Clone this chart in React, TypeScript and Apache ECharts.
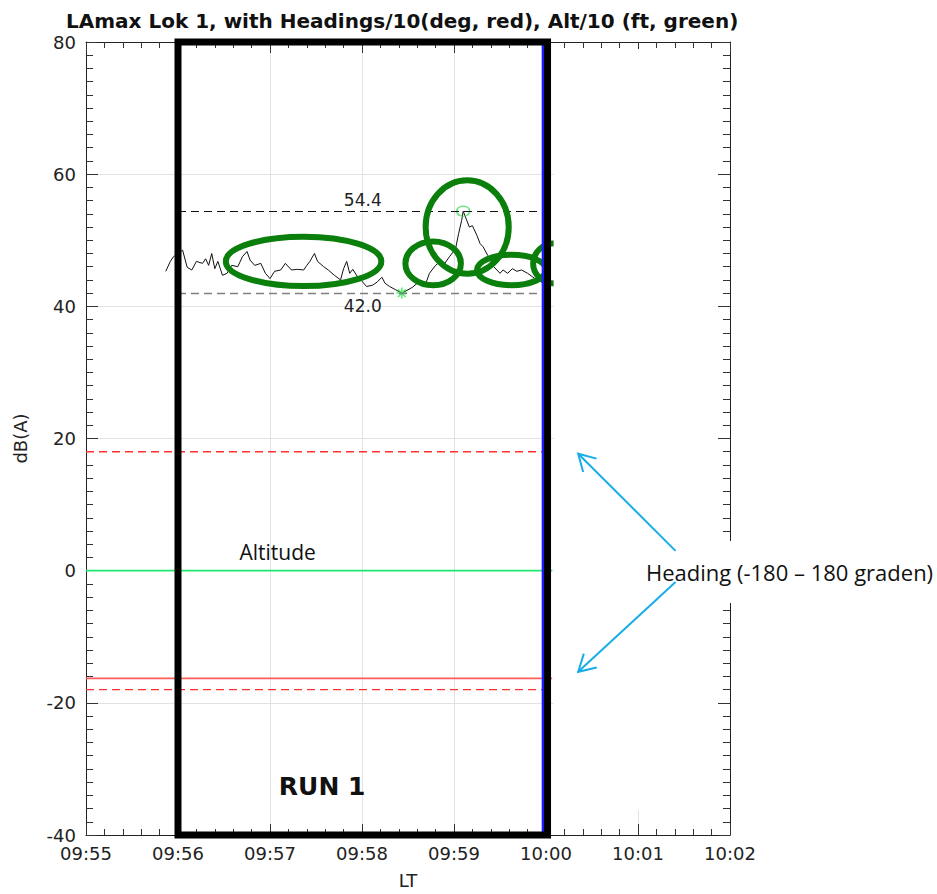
import React, { useEffect, useRef } from "react";
import * as echarts from "echarts";

// Time axis: seconds after 09:55:00, one major tick per minute
const timeTickLabels = ["09:55", "09:56", "09:57", "09:58", "09:59", "10:00", "10:01", "10:02"];

// LAmax trace at Lok 1 (seconds after 09:55:00)
const traceSeconds = [
  52, 55, 57, 63, 66, 69, 72, 76, 78, 80, 82, 84, 86, 89, 92, 95, 99, 102, 105, 107,
  110, 114, 117, 120, 123, 127, 130, 134, 138, 142, 144, 146, 149, 151, 155, 158, 162, 166, 168, 170,
  172, 174, 177, 180, 183, 187, 190, 193, 195, 198, 202, 206, 210, 213, 216, 219, 222, 224, 228, 231,
  234, 237, 241, 243, 245, 246, 248, 250, 252, 255, 257, 259, 262, 264, 265, 268, 270, 272, 275, 278,
  281, 284, 288, 291, 294, 297, 301, 303,
];
// LAmax in dB(A)
const traceLevels = [
  45.3, 46.8, 47.5, 48.5, 45.9, 45.5, 46.8, 46.5, 47.2, 46.2, 48.0, 45.7, 46.8, 44.7, 45.0, 46.2, 46.0, 47.5, 48.3, 47.0,
  46.2, 46.5, 45.0, 44.2, 45.3, 45.5, 46.5, 45.5, 45.6, 45.5, 46.2, 46.8, 48.0, 46.8, 46.0, 45.5, 44.7, 44.0, 45.7, 46.8,
  45.0, 45.6, 44.5, 43.8, 43.0, 43.2, 43.7, 44.4, 43.5, 43.0, 42.5, 42.0, 42.5, 42.9, 43.5, 43.2, 43.7, 45.0, 46.2, 46.8,
  46.5, 47.5, 48.7, 51.0, 53.0, 54.4, 53.2, 52.0, 52.2, 50.7, 49.5, 49.0, 47.7, 47.0, 46.2, 45.5, 45.0, 45.5, 45.0, 45.7,
  45.3, 45.5, 45.0, 44.5, 44.0, 44.2, 46.8, 45.7,
];

// Flight track overlays (values divided by 10)
const headingLimits = [18, -18]; // +/-180 deg
const headingLevel = -16.3;
const altitudeLevel = 0;
const trackEndSeconds = 304;

// Measurement run window and end marker (seconds)
const runWindow = [60, 301];
const runEndMarker = 298;

// Rings drawn around events: [t (s), level (dB), half-width (s), half-height (dB)]
const eventRings = [
  [141.9, 46.8, 50.7, 3.73],
  [226.4, 46.5, 18.1, 3.31],
  [248.6, 52.0, 27.1, 7.07],
  [277.5, 45.5, 22.5, 2.3],
  [305.9, 46.5, 14.3, 3.05],
];

const AXIS_FONT = "DejaVu Sans";
const NOTE_FONT = "Open Sans";

export default function App() {
  const ref = useRef<HTMLDivElement>(null);

  useEffect(() => {
    if (!ref.current) return;
    const chart = echarts.init(ref.current, null, { renderer: "svg" });

    const trace = traceSeconds.map((t, i) => [t, traceLevels[i]]);
    const peak = Math.max(...traceLevels);
    const low = Math.min(...traceLevels);
    const peakT = traceSeconds[traceLevels.indexOf(peak)];
    const lowT = traceSeconds[traceLevels.indexOf(low)];

    const flat = (v: number) => [
      [0, v],
      [trackEndSeconds, v],
    ];

    const tickStyle = { color: "#333", width: 1 };
    const xBase = {
      type: "value" as const,
      min: 0,
      max: 420,
      interval: 60,
      axisLine: { show: true, onZero: false, lineStyle: { color: "#222", width: 1 } },
      axisTick: { show: true, inside: true, length: 11, lineStyle: tickStyle },
      minorTick: { show: true, splitNumber: 5, length: 6, lineStyle: tickStyle },
    };
    const yBase = {
      type: "value" as const,
      min: -40,
      max: 80,
      interval: 20,
      axisLine: { show: true, onZero: false, lineStyle: { color: "#222", width: 1 } },
      axisTick: { show: true, inside: true, length: 12, lineStyle: tickStyle },
      minorTick: { show: true, splitNumber: 10, length: 7, lineStyle: tickStyle },
    };

    chart.setOption({
      animation: false,
      backgroundColor: "#fff",
      title: {
        text: "LAmax Lok 1, with Headings/10(deg, red), Alt/10 (ft, green)",
        left: 61,
        top: 6,
        textStyle: { fontFamily: AXIS_FONT, fontWeight: "bold", fontSize: 20, color: "#111" },
      },
      grid: { left: 86, right: 207, top: 42, bottom: 54 },
      xAxis: [
        {
          ...xBase,
          position: "bottom",
          splitLine: { show: true, lineStyle: { color: "#e2e2e2", width: 1 } },
          axisLabel: {
            margin: 9,
            fontFamily: AXIS_FONT,
            fontSize: 18,
            color: "#222",
            formatter: (v: number) => timeTickLabels[Math.round(v / 60)] ?? "",
          },
          name: "LT",
          nameLocation: "middle",
          nameGap: 36,
          nameTextStyle: { fontFamily: AXIS_FONT, fontSize: 18, color: "#222" },
        },
        {
          ...xBase,
          position: "top",
          splitLine: { show: false },
          axisLabel: { show: false },
        },
      ],
      yAxis: [
        {
          ...yBase,
          position: "left",
          splitLine: { show: true, lineStyle: { color: "#e2e2e2", width: 1 } },
          axisLabel: { margin: 10, fontFamily: AXIS_FONT, fontSize: 18, color: "#222" },
          name: "dB(A)",
          nameLocation: "middle",
          nameGap: 57,
          nameTextStyle: { fontFamily: AXIS_FONT, fontSize: 18, color: "#222" },
        },
        {
          ...yBase,
          position: "right",
          splitLine: { show: false },
          axisLabel: { show: false },
        },
      ],
      series: [
        {
          name: "LAmax",
          type: "line",
          data: trace,
          showSymbol: false,
          silent: true,
          z: 3,
          lineStyle: { color: "#111", width: 1 },
          markLine: {
            silent: true,
            symbol: "none",
            data: [
              [
                {
                  coord: [runWindow[0], peak],
                  lineStyle: { color: "#111", type: [8, 5], width: 1 },
                  label: {
                    show: true,
                    position: "insideMiddleTop",
                    distance: 3,
                    formatter: () => peak.toFixed(1),
                    fontFamily: AXIS_FONT,
                    fontSize: 17,
                    color: "#222",
                  },
                },
                { coord: [runWindow[1], peak] },
              ],
              [
                {
                  coord: [runWindow[0], low],
                  lineStyle: { color: "#808080", type: [8, 5], width: 1.3 },
                  label: {
                    show: true,
                    position: "insideMiddleBottom",
                    distance: 4,
                    formatter: () => low.toFixed(1),
                    fontFamily: AXIS_FONT,
                    fontSize: 17,
                    color: "#222",
                  },
                },
                { coord: [runWindow[1], low] },
              ],
            ],
          },
        },
        {
          name: "Peak",
          type: "scatter",
          data: [[peakT, peak]],
          symbol: "circle",
          symbolSize: [13, 10],
          silent: true,
          z: 4,
          itemStyle: { color: "rgba(0,0,0,0)", borderColor: "#3ddc5a", borderWidth: 1.3 },
        },
        {
          name: "Minimum",
          type: "scatter",
          data: [[lowT, low]],
          symbol: "path://M5,0L5,10M0,5L10,5M1.5,1.5L8.5,8.5M1.5,8.5L8.5,1.5",
          symbolSize: 11,
          silent: true,
          z: 4,
          itemStyle: { color: "rgba(0,0,0,0)", borderColor: "#27e84a", borderWidth: 1.5 },
        },
        ...headingLimits.map((v) => ({
          name: "Heading limit",
          type: "line",
          data: flat(v),
          showSymbol: false,
          silent: true,
          z: 2,
          lineStyle: { color: "#ff3030", width: 1.4, type: [8, 5] },
        })),
        {
          name: "Heading",
          type: "line",
          data: flat(headingLevel),
          showSymbol: false,
          silent: true,
          z: 2,
          lineStyle: { color: "#ff5c5c", width: 1.6 },
        },
        {
          name: "Altitude",
          type: "line",
          data: flat(altitudeLevel),
          showSymbol: false,
          silent: true,
          z: 2,
          lineStyle: { color: "#1fe86c", width: 1.6 },
        },
        {
          name: "Run end",
          type: "line",
          data: [
            [runEndMarker, 80],
            [runEndMarker, -40],
          ],
          showSymbol: false,
          silent: true,
          clip: false,
          z: 19,
          lineStyle: { color: "#1a1aff", width: 2.5 },
        },
        {
          name: "Run window",
          type: "line",
          data: [
            [runWindow[0], 80],
            [runWindow[0], -40],
            [runWindow[1], -40],
            [runWindow[1], 80],
            [runWindow[0], 80],
          ],
          showSymbol: false,
          silent: true,
          clip: false,
          z: 20,
          lineStyle: { color: "#000", width: 7, join: "miter", cap: "square" },
        },
      ],
    });

    const px = (t: number, v: number) =>
      chart.convertToPixel({ xAxisIndex: 0, yAxisIndex: 0 }, [t, v]) as number[];

    const rings = eventRings.map(([t, v, rt, rv]) => {
      const c = px(t, v);
      const e = px(t + rt, v + rv);
      return {
        type: "ellipse",
        z: 10,
        silent: true,
        shape: { cx: c[0], cy: c[1], rx: e[0] - c[0], ry: c[1] - e[1] },
        style: { fill: "none", stroke: "#0b7f0b", lineWidth: 6 },
      };
    });

    // blank panel right of the track data
    const maskL = px(trackEndSeconds, 0)[0] + 1.5;
    const maskR = px(420, 0)[0] - 12;
    const maskT = px(0, 80)[1] + 7;
    const maskB = px(0, -40)[1] - 25;

    const arrowColor = "#17ade6";
    const arrow = (tip: number[], tail: number[]) => {
      const ang = Math.atan2(tail[1] - tip[1], tail[0] - tip[0]);
      const len = 19;
      const a1 = ang + Math.PI / 6;
      const a2 = ang - Math.PI / 6;
      return [
        {
          type: "polyline",
          z: 50,
          silent: true,
          shape: { points: [tail, tip] },
          style: { stroke: arrowColor, lineWidth: 2, fill: "none" },
        },
        {
          type: "polyline",
          z: 50,
          silent: true,
          shape: {
            points: [
              [tip[0] + len * Math.cos(a1), tip[1] + len * Math.sin(a1)],
              tip,
              [tip[0] + len * Math.cos(a2), tip[1] + len * Math.sin(a2)],
            ],
          },
          style: { stroke: arrowColor, lineWidth: 2, fill: "none" },
        },
      ];
    };

    const altPos = px(125, 2.9);
    const runPos = px(154, -32.6);

    chart.setOption({
      graphic: [
        ...rings,
        {
          type: "rect",
          z: 30,
          silent: true,
          shape: { x: maskL, y: maskT, width: maskR - maskL, height: maskB - maskT },
          style: { fill: "#fff" },
        },
        ...arrow(px(321, 17.7), px(384.5, 3.0)),
        ...arrow(px(321, -15.3), px(384.5, -1.7)),
        {
          type: "text",
          z: 45,
          silent: true,
          x: 644,
          y: 572,
          style: {
            text: "Heading (-180 \u2013 180 graden)",
            fontFamily: NOTE_FONT,
            fontSize: 22,
            fill: "#111",
            verticalAlign: "middle",
            backgroundColor: "#fff",
            padding: [20, 2, 20, 2],
          },
        },
        {
          type: "text",
          z: 45,
          silent: true,
          x: altPos[0],
          y: altPos[1],
          style: {
            text: "Altitude",
            fontFamily: NOTE_FONT,
            fontSize: 21,
            fill: "#111",
            align: "center",
            verticalAlign: "middle",
          },
        },
        {
          type: "text",
          z: 45,
          silent: true,
          x: runPos[0],
          y: runPos[1],
          style: {
            text: "RUN 1",
            fontFamily: AXIS_FONT,
            fontWeight: "bold",
            fontSize: 25,
            fill: "#111",
            align: "center",
            verticalAlign: "middle",
          },
        },
      ],
    });

    return () => chart.dispose();
  }, []);

  return (
    <div
      ref={ref}
      style={{ position: "fixed", left: 0, top: 0, width: 937, height: 894, background: "#fff" }}
    />
  );
}
